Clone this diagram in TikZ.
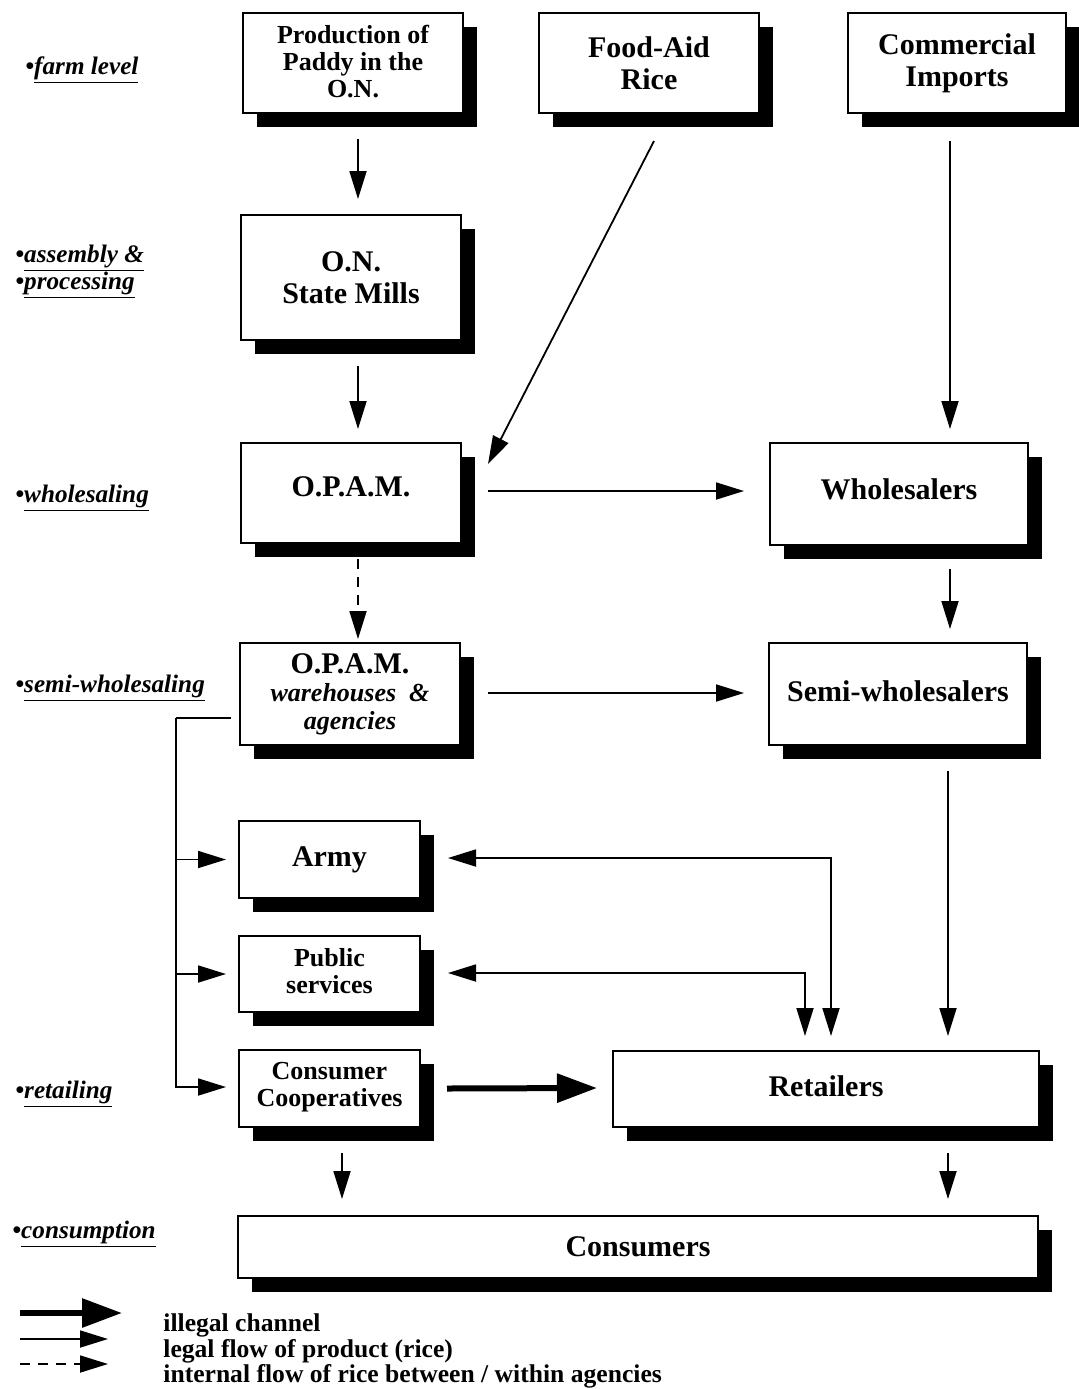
\documentclass[tikz,border=0pt]{standalone}
\usepackage{fontspec}
\setmainfont{Liberation Serif}
\usetikzlibrary{arrows.meta,shadows,calc}
\tikzset{
  box/.style={draw,line width=1pt,fill=white,inner sep=0pt,align=center,
    font=\bfseries\fontsize{15}{16}\selectfont,
    drop shadow={shadow xshift=7pt,shadow yshift=-7pt,opacity=1,fill=black}},
  sz/.style 2 args={minimum width=#1*0.5pt,minimum height=#2*0.5pt},
  smalltext/.style={font=\bfseries\fontsize{13}{13.5}\selectfont},
  arr/.style={line width=0.9pt,-{Triangle[length=14pt,width=8.5pt]}},
  dbl/.style={line width=0.9pt,{Triangle[length=14pt,width=8.5pt]}-{Triangle[length=14pt,width=8.5pt]}},
  dasharr/.style={arr,dash pattern=on 5pt off 4pt},
  thickarr/.style={line width=3pt,-{Triangle[length=20pt,width=14pt]}},
  plain/.style={line width=0.9pt},
  lab/.style={anchor=base west,inner sep=0pt,font=\bfseries\itshape\fontsize{12.6}{13}\selectfont},
  legtext/.style={anchor=base west,inner sep=0pt,font=\bfseries\fontsize{12.8}{13}\selectfont}
}
\begin{document}
\begin{tikzpicture}[x=0.5pt,y=-0.5pt]
\useasboundingbox (0,0) rectangle (1078,1389);

% boxes
\node[box,sz={220}{100},smalltext] (prod) at (353,63) {Production of\\Paddy in the\\O.N.\rule[-2pt]{0pt}{1pt}};
\node[box,sz={220}{100}] (food) at (649,63) {Food-Aid\\Rice};
\node[box,sz={218}{100}] (comm) at (957,63) {Commercial\\Imports};
\node[box,sz={220}{125}] (mills) at (351,277.5) {O.N.\\State Mills};
\node[box,sz={220}{100}] (opam) at (351,493) {O.P.A.M.\rule[-6pt]{0pt}{1pt}};
\node[box,sz={258}{102}] (whole) at (899,494) {Wholesalers\rule[-5pt]{0pt}{1pt}};
\node[box,sz={220}{102},font=\bfseries\fontsize{13}{14}\selectfont] (ware) at (350,694)
  {{\fontsize{15}{14}\selectfont O.P.A.M.}\\{\itshape warehouses\ \ \&}\\{\itshape agencies}};
\node[box,sz={258}{102}] (semi) at (898,694) {Semi-wholesalers\rule[-3pt]{0pt}{1pt}};
\node[box,sz={181}{77}] (army) at (329.5,859.5) {Army};
\node[box,sz={181}{76},smalltext] (pub) at (329.5,974) {Public\\services\rule[-3pt]{0pt}{1pt}};
\node[box,sz={181}{77},smalltext] (coop) at (329.5,1088.5) {Consumer\\Cooperatives\rule[-4pt]{0pt}{1pt}};
\node[box,sz={426}{76}] (ret) at (826,1089) {Retailers\rule[-3pt]{0pt}{1pt}};
\node[box,sz={800}{62}] (cons) at (638,1247) {Consumers};

% level labels
\node[lab] (l1) at (25,74) {\textbullet\underline{farm level}};
\node[lab] (l2) at (15,262) {\textbullet\underline{assembly \&}};
\node[lab] (l3) at (15,289) {\textbullet\underline{processing}};
\node[lab] (l4) at (15,502) {\textbullet\underline{wholesaling}};
\node[lab] (l5) at (15,692) {\textbullet\underline{semi-wholesaling}};
\node[lab] (l6) at (15,1098) {\textbullet\underline{retailing}};
\node[lab] (l7) at (12,1238) {\textbullet\underline{consumption}};

% connectors
\draw[arr] ($(prod.south)+(5,25)$) -- ($(mills.north)+(7,-15)$);
\draw[arr] ($(mills.south)+(7,25)$) -- ($(opam.north)+(7,-13)$);
\draw[arr] ($(food.south)+(5,27)$) -- ($(opam.north east)+(26,22)$);
\draw[arr] ($(comm.south)+(-7,27)$) -- ($(whole.north)+(51,-13)$);
\draw[arr] ($(opam.east)+(26,-2)$) -- ($(whole.west)+(-25,-3)$);
\draw[arr] ($(whole.south)+(51,23)$) -- ($(semi.north)+(52,-13)$);
\draw[dasharr] ($(opam.south)+(7,15)$) -- ($(ware.north)+(8,-3)$);
\draw[arr] ($(ware.east)+(27,-1)$) -- ($(semi.west)+(-24,-1)$);
\draw[arr] ($(semi.south)+(50,25)$) -- ($(ret.north)+(122,-14)$);

% bus from warehouses
\coordinate (busstart) at ($(ware.west)+(-8,24)$);
\coordinate (bus) at (176,718);
\draw[plain] (busstart) -- (bus);
\draw[arr] (bus) |- ($(coop.west)+(-12,-1.5)$);
\draw[arr] (bus |- army.west) -- ($(army.west)+(-12,0)$);
\draw[arr] (bus |- pub.west) -- ($(pub.west)+(-12,0)$);

% retailers <-> army / public services
\draw[dbl] ($(army.east)+(27,-1.5)$) -| ($(ret.north)+(5,-14)$);
\draw[dbl] ($(pub.east)+(27,-1)$) -| ($(ret.north)+(-21,-14)$);

% illegal channel
\draw[thickarr] ($(coop.east)+(26,0)$) -- ($(ret.west)+(-15,-1)$);

% to consumers
\coordinate (c1) at ($(coop.south)+(12.5,25)$);
\draw[arr] (c1) -- ($(c1 |- cons.north)+(0,-16)$);
\coordinate (r1) at ($(ret.south)+(122,25)$);
\draw[arr] (r1) -- ($(r1 |- cons.north)+(0,-16)$);

% legend
\coordinate (g1a) at (20,1313); \coordinate (g1b) at (122,1313);
\coordinate (g2a) at (20,1339); \coordinate (g2b) at (108,1339);
\coordinate (g3a) at (20,1364); \coordinate (g3b) at (108,1364);
\draw[thickarr] (g1a) -- (g1b);
\draw[arr] (g2a) -- (g2b);
\draw[dasharr] (g3a) -- (g3b);
\node[legtext] (t1) at (163,1331) {illegal channel};
\node[legtext] (t2) at (163,1357) {legal flow of product (rice)};
\node[legtext] (t3) at (163,1382) {internal flow of rice between / within agencies};
\end{tikzpicture}
\end{document}
